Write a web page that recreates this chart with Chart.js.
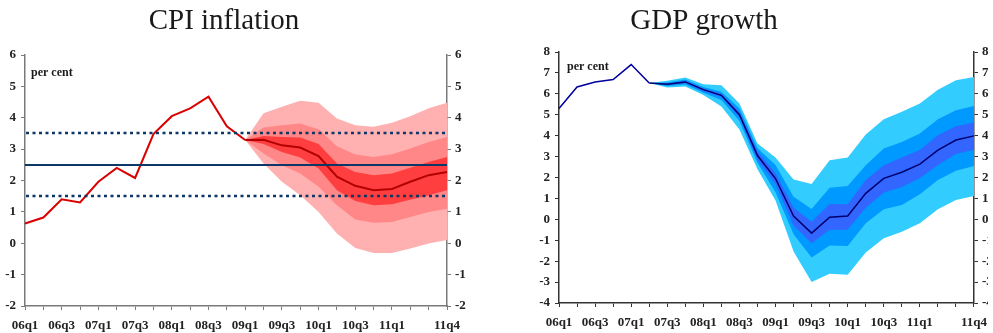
<!DOCTYPE html>
<html>
<head>
<meta charset="utf-8">
<script src="https://cdn.jsdelivr.net/npm/chart.js@4.4.1/dist/chart.umd.min.js"></script>
<style>
html, body { margin: 0; padding: 0; background: #fff; overflow: hidden; width: 993px; height: 333px; }
.box { position: absolute; top: 0; height: 333px; width: 475px; }
</style>
</head>
<body>
<div class="box" style="left:0"><canvas id="cpi"></canvas></div>
<div class="box" style="left:520px"><canvas id="gdp"></canvas></div>
<script>
var quarters = ['06q1','06q2','06q3','06q4','07q1','07q2','07q3','07q4','08q1','08q2','08q3','08q4',
                '09q1','09q2','09q3','09q4','10q1','10q2','10q3','10q4','11q1','11q2','11q3','11q4'];
var shownTicks = ['06q1','06q3','07q1','07q3','08q1','08q3','09q1','09q3','10q1','10q3','11q1','11q4'];
var n = null;

// CPI inflation, per cent
var cpiActual  = [0.63,0.82,1.40,1.30,1.96,2.40,2.08,3.48,4.05,4.30,4.67,3.73,3.29,n,n,n,n,n,n,n,n,n,n,n];
var cpiCentral = [n,n,n,n,n,n,n,n,n,n,n,n,3.29,3.30,3.12,3.05,2.78,2.12,1.83,1.69,1.73,1.96,2.17,2.27];
var cpiInnerHi = [n,n,n,n,n,n,n,n,n,n,n,n,3.29,3.42,3.39,3.37,3.16,2.54,2.27,2.17,2.22,2.41,2.59,2.75];
var cpiInnerLo = [n,n,n,n,n,n,n,n,n,n,n,n,3.29,3.16,2.91,2.73,2.38,1.69,1.35,1.21,1.24,1.39,1.53,1.69];
var cpiMidHi   = [n,n,n,n,n,n,n,n,n,n,n,n,3.29,3.69,3.76,3.82,3.63,3.09,2.83,2.75,2.84,3.02,3.23,3.39];
var cpiMidLo   = [n,n,n,n,n,n,n,n,n,n,n,n,3.29,2.86,2.49,2.22,1.80,1.21,0.76,0.65,0.68,0.84,1.00,1.10];
var cpiOuterHi = [n,n,n,n,n,n,n,n,n,n,n,n,3.29,4.14,4.35,4.54,4.48,3.98,3.76,3.71,3.84,4.05,4.30,4.48];
var cpiOuterLo = [n,n,n,n,n,n,n,n,n,n,n,n,3.29,2.54,1.96,1.53,1.00,0.31,-0.15,-0.31,-0.31,-0.17,-0.01,0.10];
var cpiTarget = 2.5;
var cpiTolerance = [1.5, 3.5];

// GDP growth, per cent
var gdpActual  = [5.30,6.33,6.57,6.68,7.40,6.52,n,n,n,n,n,n,n,n,n,n,n,n,n,n,n,n,n,n];
var gdpCentral = [n,n,n,n,n,6.52,6.46,6.57,6.20,5.93,5.00,3.05,1.95,0.16,-0.66,0.10,0.16,1.24,1.96,2.25,2.64,3.31,3.79,3.99];
var gdpInnerHi = [n,n,n,n,n,6.52,6.50,6.62,6.26,6.00,5.12,3.25,2.20,0.55,-0.11,0.73,0.72,1.88,2.59,2.96,3.31,4.02,4.45,4.63];
var gdpInnerLo = [n,n,n,n,n,6.52,6.42,6.52,6.12,5.85,4.88,2.85,1.70,-0.30,-1.14,-0.50,-0.50,0.55,1.28,1.55,1.98,2.60,3.12,3.33];
var gdpMidHi   = [n,n,n,n,n,6.52,6.54,6.68,6.33,6.10,5.30,3.40,2.60,1.08,0.50,1.51,1.59,2.59,3.39,3.70,4.10,4.79,5.22,5.42];
var gdpMidLo   = [n,n,n,n,n,6.52,6.38,6.45,6.05,5.70,4.70,2.70,1.30,-0.71,-1.83,-1.25,-1.27,-0.19,0.48,0.69,1.20,1.88,2.32,2.55];
var gdpOuterHi = [n,n,n,n,n,6.52,6.62,6.78,6.46,6.41,5.54,3.63,2.96,1.91,1.69,2.83,2.96,4.06,4.79,5.14,5.54,6.20,6.65,6.81];
var gdpOuterLo = [n,n,n,n,n,6.52,6.30,6.35,5.95,5.40,4.30,2.40,0.90,-1.54,-3.00,-2.60,-2.65,-1.59,-0.90,-0.59,-0.19,0.48,0.93,1.12];

var tickFont = { family: 'Liberation Serif', size: 13, weight: 'bold' };

function line(data, color, width) {
    return { data: data, borderColor: color, borderWidth: width, pointRadius: 0, tension: 0, fill: false };
}
function band(data, color) {
    return { data: data, borderWidth: 0, borderColor: 'rgba(0,0,0,0)', backgroundColor: color,
             pointRadius: 0, tension: 0, fill: '+1' };
}
function edge(data) {
    return { data: data, borderWidth: 0, borderColor: 'rgba(0,0,0,0)', pointRadius: 0, tension: 0, fill: false };
}

// title and "per cent" text drawn on the canvas
function textPlugin(title, titleX, unitX, unitY) {
    return {
        id: 'texts',
        afterDraw: function (chart) {
            var c = chart.ctx;
            c.save();
            c.fillStyle = '#1a1a1a';
            c.textAlign = 'center';
            c.textBaseline = 'alphabetic';
            c.font = '29px "Liberation Serif"';
            c.fillText(title, titleX, 29);
            c.textAlign = 'left';
            c.textBaseline = 'middle';
            c.font = 'bold 12px "Liberation Serif"';
            c.fillText('per cent', unitX, unitY);
            c.restore();
        }
    };
}

var targetLines = {
    id: 'targetLines',
    afterDatasetsDraw: function (chart) {
        var c = chart.ctx, a = chart.chartArea, y = chart.scales.y;
        c.save();
        c.strokeStyle = '#0d3766';
        c.lineWidth = 2;
        c.beginPath();
        var py = Math.round(y.getPixelForValue(cpiTarget));
        c.moveTo(a.left, py); c.lineTo(a.right, py);
        c.stroke();
        c.lineWidth = 2.5;
        c.setLineDash([3, 3.5]);
        cpiTolerance.forEach(function (v) {
            var p = Math.round(y.getPixelForValue(v));
            c.beginPath();
            c.moveTo(a.left + 1, p); c.lineTo(a.right, p);
            c.stroke();
        });
        c.restore();
    }
};

function makeChart(id, datasets, yMin, yMax, axisColor, leftW, rightW, topPad, xH, plugins) {
    var axisGrid = { drawOnChartArea: false, drawTicks: true, tickLength: 4, color: axisColor };
    return new Chart(document.getElementById(id).getContext('2d'), {
        type: 'line',
        data: { labels: quarters, datasets: datasets },
        options: {
            responsive: true, maintainAspectRatio: false, animation: false,
            layout: { padding: { top: topPad, left: 0, right: 0, bottom: 0 } },
            plugins: { legend: { display: false }, tooltip: { enabled: false } },
            scales: {
                x: {
                    offset: false,
                    grid: axisGrid,
                    border: { color: axisColor, width: 1.5 },
                    ticks: {
                        autoSkip: false, maxRotation: 0, minRotation: 0, padding: 8,
                        font: tickFont, color: '#222',
                        callback: function (v, i) { return shownTicks.indexOf(quarters[i]) >= 0 ? quarters[i] : ''; }
                    },
                    afterFit: function (s) { s.height = xH; }
                },
                y: {
                    position: 'left', min: yMin, max: yMax,
                    grid: axisGrid,
                    border: { color: axisColor, width: 1.5 },
                    ticks: { stepSize: 1, padding: 5, font: tickFont, color: '#222' },
                    afterFit: function (s) { s.width = leftW; }
                },
                y2: {
                    position: 'right', min: yMin, max: yMax,
                    grid: axisGrid,
                    border: { color: axisColor, width: 1.5 },
                    ticks: { stepSize: 1, padding: 4, font: tickFont, color: '#222' },
                    afterFit: function (s) { s.width = rightW; }
                }
            }
        },
        plugins: plugins
    });
}

makeChart('cpi', [
    line(cpiActual, '#d90000', 2),
    line(cpiCentral, '#b30000', 2),
    band(cpiInnerHi, '#ff3f3f'), edge(cpiInnerLo),
    band(cpiMidHi, '#ff8787'), edge(cpiMidLo),
    band(cpiOuterHi, '#ffb1b1'), edge(cpiOuterLo)
], -2, 6, '#7a7a7a', 25, 28, 55, 27, [targetLines, textPlugin('CPI inflation', 224, 31, 73)]);

makeChart('gdp', [
    line(gdpActual, '#0000a0', 1.5),
    line(gdpCentral, '#00006e', 1.5),
    band(gdpInnerHi, '#3366ff'), edge(gdpInnerLo),
    band(gdpMidHi, '#0099ff'), edge(gdpMidLo),
    band(gdpOuterHi, '#33ccff'), edge(gdpOuterLo)
], -4, 8, '#333333', 39, 14, 52, 30, [textPlugin('GDP growth', 184, 47, 67)]);
</script>
</body>
</html>
